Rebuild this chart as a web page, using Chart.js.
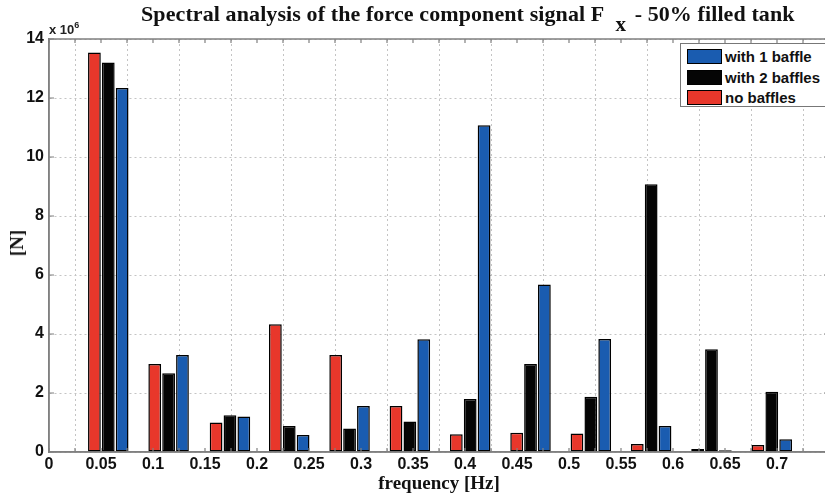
<!DOCTYPE html>
<html>
<head>
<meta charset="utf-8">
<script src="https://cdn.jsdelivr.net/npm/chart.js@4/dist/chart.umd.min.js"></script>
<style>
    html, body {
        margin: 0;
        padding: 0;
        background: #fff;
        overflow: hidden;
    }

    .wrap {
        position: relative;
        width: 825px;
        height: 494px;
        overflow: hidden;
    }

    .chart-box {
        position: absolute;
        left: 0;
        top: 0;
        width: 832px;
        height: 494px;
    }

    .title {
        position: absolute;
        left: 141px;
        top: 1px;
        font-family: 'Liberation Serif', 'Times New Roman', serif;
        font-weight: bold;
        font-size: 22px;
        letter-spacing: 0.1px;
        color: #111;
        white-space: nowrap;
    }

    .title sub {
        font-size: 21px;
        vertical-align: -10px;
        line-height: 0;
        margin-left: 11px;
        margin-right: 3px;
    }

    .exp {
        position: absolute;
        left: 49px;
        top: 22px;
        font-family: 'Liberation Sans', Arial, sans-serif;
        font-weight: bold;
        font-size: 13px;
        color: #222;
    }

    .exp sup {
        font-size: 9px;
        vertical-align: 6px;
        line-height: 0;
    }

    .ylab {
        position: absolute;
        left: 17px;
        top: 243px;
        transform: translate(-50%, -50%) rotate(-90deg);
        font-family: 'Liberation Serif', 'Times New Roman', serif;
        font-weight: bold;
        font-size: 19px;
        color: #111;
        white-space: nowrap;
    }

    .xlab {
        position: absolute;
        left: 439px;
        top: 483px;
        transform: translate(-50%, -50%);
        font-family: 'Liberation Serif', 'Times New Roman', serif;
        font-weight: bold;
        font-size: 19px;
        color: #111;
        white-space: nowrap;
    }

    .legend {
        position: absolute;
        left: 680px;
        top: 43px;
        width: 170px;
        height: 64px;
        border: 1px solid #777;
        background: #fff;
        padding-top: 3px;
        box-sizing: border-box;
    }

    .legend-row {
        display: flex;
        align-items: center;
        height: 19px;
        margin-bottom: 1.5px;
    }

    .legend-swatch {
        width: 33px;
        height: 13px;
        margin-left: 6px;
        margin-right: 3px;
        border: 1.5px solid #000;
    }

    .legend-text {
        font-family: 'Liberation Sans', Arial, sans-serif;
        font-weight: bold;
        font-size: 15px;
        color: #111;
        white-space: nowrap;
    }
</style>
</head>
<body>
<div class="wrap">
    <div class="chart-box"><canvas id="chart"></canvas></div>
    <div class="title">Spectral analysis of the force component signal F<sub>x</sub> - 50% filled tank</div>
    <div class="exp">x 10<sup>6</sup></div>
    <div class="ylab">[N]</div>
    <div class="xlab">frequency [Hz]</div>
    <div class="legend" id="legend"></div>
</div>

<script>
// Frequencies of the bar groups [Hz]
const freqs = [0.057, 0.115, 0.174, 0.231, 0.289, 0.347, 0.405, 0.463, 0.521, 0.579, 0.637, 0.695];

// Amplitudes in units of 10^6 N
const noBaffles  = [13.54, 2.98, 1.00, 4.33, 3.29, 1.56, 0.60, 0.65, 0.63, 0.27, 0.10, 0.24];
const twoBaffles = [13.20, 2.67, 1.25, 0.88, 0.80, 1.03, 1.80, 2.98, 1.87, 9.08, 3.48, 2.04];
const oneBaffle  = [12.34, 3.29, 1.20, 0.58, 1.56, 3.82, 11.08, 5.68, 3.83, 0.88, 0.06, 0.43];

const seriesNames = ['no baffles', 'with 2 baffles', 'with 1 baffle'];
const seriesColors = ['#e8372b', '#050505', '#1a5cb0'];
const legendOrder = [2, 1, 0];

const yTicks = [0, 2, 4, 6, 8, 10, 12, 14];
const xMax = 0.75;

const toPoints = (vals) => vals.map((v, i) => ({ x: freqs[i], y: v }));

const datasets = [noBaffles, twoBaffles, oneBaffle].map((vals, i) => ({
    label: seriesNames[i],
    data: toPoints(vals),
    backgroundColor: seriesColors[i],
    borderColor: '#000',
    borderWidth: 1.5,
    borderSkipped: false,
    categoryPercentage: 0.8,
    barPercentage: 0.92
}));

// Inward tick marks and the border of the axes box
const axesBox = {
    id: 'axesBox',
    afterDatasetsDraw(chart) {
        const { ctx, chartArea: a, scales } = chart;
        ctx.save();
        ctx.strokeStyle = '#808080';
        ctx.lineWidth = 1.2;
        ctx.beginPath();
        for (let k = 0; k <= 30; k++) {
            const px = scales.x.getPixelForValue(k * 0.025);
            ctx.moveTo(px, a.bottom);
            ctx.lineTo(px, a.bottom - 4);
            ctx.moveTo(px, a.top);
            ctx.lineTo(px, a.top + 4);
        }
        yTicks.forEach((t) => {
            const py = scales.y.getPixelForValue(t);
            ctx.moveTo(a.left, py);
            ctx.lineTo(a.left + 5, py);
            ctx.moveTo(a.right, py);
            ctx.lineTo(a.right - 5, py);
        });
        ctx.stroke();
        ctx.lineWidth = 1.5;
        ctx.strokeRect(a.left, a.top, a.right - a.left, a.bottom - a.top);
        ctx.restore();
    }
};

const tickFont = { family: "'Liberation Sans', Arial, sans-serif", size: 16, weight: 'bold' };
const gridDash = [2, 3];

const chart = new Chart(document.getElementById('chart').getContext('2d'), {
    type: 'bar',
    data: { datasets },
    options: {
        responsive: true,
        maintainAspectRatio: false,
        animation: false,
        layout: { padding: { top: 39, right: 2, left: 0, bottom: 0 } },
        plugins: {
            legend: { display: false },
            tooltip: { enabled: false }
        },
        scales: {
            x: {
                type: 'linear',
                min: 0,
                max: xMax,
                offset: false,
                afterFit: (scale) => { scale.height = 42; },
                ticks: {
                    stepSize: 0.05,
                    color: '#111',
                    font: tickFont,
                    padding: 3,
                    maxRotation: 0,
                    autoSkip: false,
                    callback: (v) => (v > 0.72 ? '' : String(Number(v.toFixed(2))))
                },
                grid: {
                    color: '#c4c4c4',
                    lineWidth: 1,
                    drawTicks: false
                },
                border: { display: true, color: '#808080', width: 1.5, dash: gridDash }
            },
            y: {
                min: 0,
                max: 14,
                afterFit: (scale) => { scale.width = 49; },
                afterBuildTicks: (scale) => { scale.ticks = yTicks.map((v) => ({ value: v })); },
                ticks: {
                    color: '#111',
                    font: tickFont,
                    padding: 5
                },
                grid: {
                    color: '#c4c4c4',
                    lineWidth: 1,
                    drawTicks: false
                },
                border: { display: true, color: '#808080', width: 1.5, dash: gridDash }
            }
        }
    },
    plugins: [axesBox]
});

// Legend inside the axes, top right
const legendEl = document.getElementById('legend');
legendOrder.forEach((i) => {
    const row = document.createElement('div');
    row.className = 'legend-row';
    const sw = document.createElement('div');
    sw.className = 'legend-swatch';
    sw.style.background = seriesColors[i];
    const txt = document.createElement('span');
    txt.className = 'legend-text';
    txt.textContent = seriesNames[i];
    row.appendChild(sw);
    row.appendChild(txt);
    legendEl.appendChild(row);
});
</script>
</body>
</html>
